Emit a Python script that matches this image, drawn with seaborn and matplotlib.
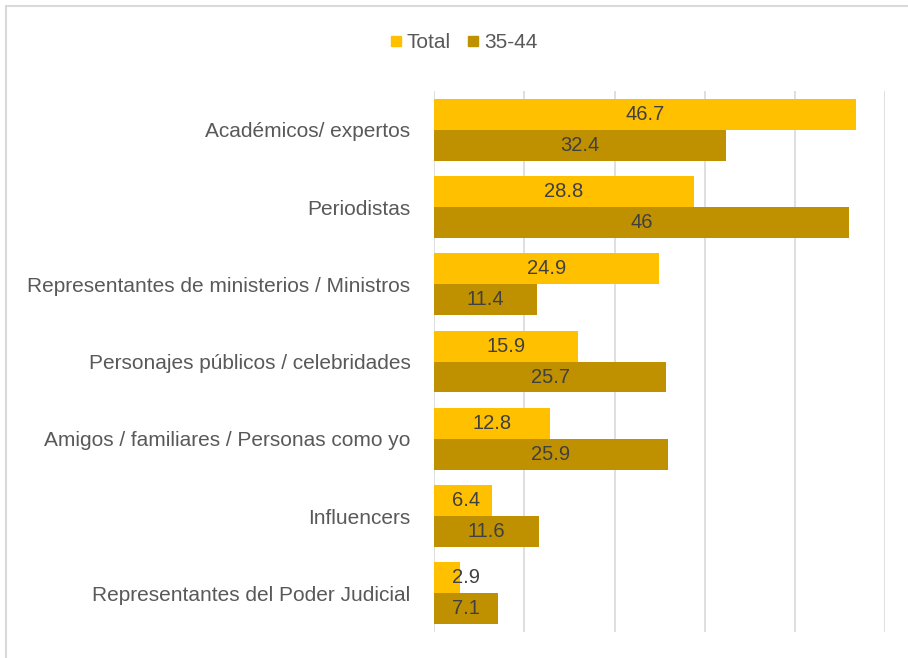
import pandas as pd
import matplotlib.pyplot as plt
import seaborn as sns
from matplotlib.lines import Line2D

sns.set_style(style='white')
plt.rcParams['font.family'] = ['Liberation Sans', 'DejaVu Sans']

categories = ['Académicos/ expertos', 'Periodistas',
              'Representantes de ministerios / Ministros',
              'Personajes públicos / celebridades',
              'Amigos / familiares / Personas como yo',
              'Influencers', 'Representantes del Poder Judicial']
total = [46.7, 28.8, 24.9, 15.9, 12.8, 6.4, 2.9]
age_35_44 = [32.4, 46, 11.4, 25.7, 25.9, 11.6, 7.1]
series = ['Total', '35-44']
colors = ['#FFC000', '#BF9000']

df = pd.DataFrame({
    'categoria': categories * 2,
    'valor': total + age_35_44,
    'serie': [series[0]] * len(categories) + [series[1]] * len(categories),
})

fig = plt.figure(figsize=(9.08, 6.58), dpi=100)
ax = fig.add_axes([0.478, 0.0395, 0.497, 0.822])

sns.barplot(data=df, y='categoria', x='valor', hue='serie', orient='h',
            palette=colors, width=0.8, gap=0, saturation=1, linewidth=0,
            ax=ax, legend=False)

# value labels centred in the bars, kept clear of the axis for short bars
for cont in ax.containers:
    for bar, v in zip(cont.patches, cont.datavalues):
        ax.text(max(v / 2, 3.5), bar.get_y() + bar.get_height() / 2, f'{v:g}',
                ha='center', va='center', fontsize=14.5, color='#404040')

ax.set_xlim(0, 50)
ax.set_xticks(range(0, 51, 10))
ax.set_xticklabels([])
ax.grid(axis='x', color='#D9D9D9', linewidth=1.2)
ax.set_axisbelow(True)
for s in ax.spines.values():
    s.set_visible(False)
ax.tick_params(axis='both', length=0)
ax.tick_params(axis='y', pad=17, labelsize=15, labelcolor='#595959')
ax.set_xlabel('')
ax.set_ylabel('')

handles = [Line2D([], [], marker='s', linestyle='', color=c, markersize=7.5) for c in colors]
fig.legend(handles, series, loc='center', bbox_to_anchor=(0.511, 0.935), ncol=2,
           frameon=False, fontsize=15, labelcolor='#595959',
           handletextpad=0.25, columnspacing=0.85, handlelength=0.5)

# chart border (top and left edges visible)
fig.add_artist(Line2D([0.007, 0.007], [0, 0.991], color='#D9D9D9', linewidth=1.5))
fig.add_artist(Line2D([0.007, 1], [0.991, 0.991], color='#D9D9D9', linewidth=1.5))

fig.savefig('out.png', dpi=100)
